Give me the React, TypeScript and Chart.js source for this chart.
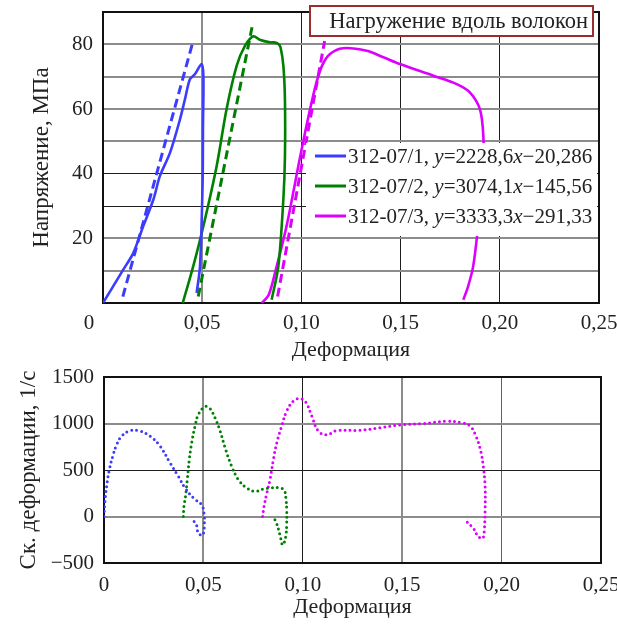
import React, { useEffect, useRef } from 'react';
import { Chart, registerables } from 'chart.js';
Chart.register(...registerables);

const FONT = '"Liberation Serif", "Times New Roman", serif';
const BLUE = '#3c3cff';
const GREEN = '#008000';
const MAGENTA = '#de00ff';
const GRAY = '#8c8c8c';
const DARK = '#1e1e1e';

// ---- Top chart: stress vs strain ----
const series1StrainX = [0, 0.0102, 0.0153, 0.0203, 0.0254, 0.0287, 0.0338, 0.0388, 0.0413, 0.0438, 0.0464, 0.0497, 0.0506, 0.0504, 0.0502, 0.0489, 0.0472];
const series1Stress = [0, 10.3, 15.5, 23.8, 32, 39.3, 46.5, 56.8, 63, 69.2, 70.8, 73.9, 70.3, 55, 37.2, 11.4, 3.1];
const series2StrainX = [0.0402, 0.0455, 0.0506, 0.0573, 0.0623, 0.0674, 0.0716, 0.0758, 0.079, 0.0842, 0.0862, 0.0884, 0.0895, 0.0909, 0.0917, 0.0917, 0.0909, 0.0884, 0.085];
const series2Stress = [0, 11.4, 23.8, 42.4, 60, 73.4, 79.6, 82.5, 81.4, 80.6, 80.6, 80.1, 79, 73.4, 63, 45, 32, 11.4, 1];
const series3StrainX = [0.08, 0.0835, 0.0867, 0.0926, 0.0993, 0.104, 0.1075, 0.1105, 0.1144, 0.121, 0.1329, 0.1413, 0.1497, 0.1665, 0.1783, 0.185, 0.19, 0.1917, 0.1917, 0.1891, 0.1866, 0.184, 0.1816];
const series3Stress = [0, 2.5, 9.3, 24, 45, 58.9, 68, 73.5, 77, 78.8, 78, 76, 73.9, 70.3, 67.7, 65.1, 59.9, 51.7, 40, 23.8, 11.4, 5.1, 1];

// linear fits (end points of the dashed lines)
const fit1X = [0.01, 0.0451];
const fit1Y = [2.0, 80.3];
const fit2X = [0.048, 0.0751];
const fit2Y = [2.0, 85.3];
const fit3X = [0.088, 0.1117];
const fit3Y = [2.0, 81.0];

const seriesNames = ['312-07/1', '312-07/2', '312-07/3'];
const fitSlopes = ['2228,6', '3074,1', '3333,3'];
const fitIntercepts = ['20,286', '145,56', '291,33'];

// ---- Bottom chart: strain rate vs strain ----
const rate1X = [0, 0.0004, 0.0013, 0.0027, 0.0044, 0.0064, 0.0089, 0.0131, 0.0181, 0.0231, 0.0282, 0.0332, 0.0374, 0.0408, 0.045, 0.0491, 0.0503, 0.0505, 0.0497, 0.0475, 0.0463, 0.0442];
const rate1Y = [0, 145, 324, 505, 649, 775, 865, 923, 919, 865, 757, 577, 432, 307, 199, 126, 36, -71, -198, -180, -79, -36];
const rate2X = [0.0399, 0.0402, 0.041, 0.0419, 0.0429, 0.0441, 0.0458, 0.0475, 0.0508, 0.0533, 0.0558, 0.0584, 0.0609, 0.0642, 0.0676, 0.0718, 0.0759, 0.0801, 0.0843, 0.0885, 0.0907, 0.0915, 0.0919, 0.0919, 0.0914, 0.0899, 0.0885, 0.0868, 0.0855];
const rate2Y = [0, 108, 216, 397, 613, 793, 973, 1099, 1182, 1161, 1063, 919, 739, 541, 397, 307, 270, 296, 307, 310, 281, 199, 72, -72, -216, -306, -198, -72, -18];
const rate3X = [0.0798, 0.0805, 0.0819, 0.0835, 0.0852, 0.0869, 0.0894, 0.0919, 0.0953, 0.0986, 0.1016, 0.1045, 0.1078, 0.112, 0.117, 0.1288, 0.1388, 0.1489, 0.1606, 0.1724, 0.1799, 0.1841, 0.1871, 0.1895, 0.1908, 0.1917, 0.1917, 0.1913, 0.1905, 0.1883, 0.1858, 0.1824];
const rate3Y = [0, 108, 252, 397, 613, 793, 973, 1135, 1243, 1269, 1226, 1081, 919, 880, 923, 927, 955, 984, 999, 1024, 1009, 973, 865, 703, 541, 324, 72, -144, -234, -216, -126, -54];

const xTicks = [0, 0.05, 0.1, 0.15, 0.2, 0.25];

const pts = (xs: number[], ys: number[]) => xs.map((x, i) => ({ x, y: ys[i] }));
const fmtX = (v: number) => (Math.abs(v) < 1e-9 ? '0' : v.toFixed(2).replace('.', ','));
const r2 = (v: number) => Math.round(v * 100);

const tickFont = { family: FONT, size: 21 };
const titleFont = { family: FONT, size: 22 };
const yTitleFont = { family: FONT, size: 23 };

const framePlugin = {
  id: 'frame',
  beforeDatasetsDraw(chart: any) {
    const { ctx, chartArea: a } = chart;
    ctx.save();
    ctx.strokeStyle = '#111';
    ctx.lineWidth = 2;
    ctx.strokeRect(a.left, a.top, a.right - a.left, a.bottom - a.top);
    ctx.restore();
  },
};

const topOverlay = {
  id: 'topOverlay',
  afterDatasetsDraw(chart: any) {
    const { ctx } = chart;
    ctx.save();
    // legend box
    ctx.fillStyle = '#fff';
    ctx.fillRect(306, 143, 291, 93);
    const colors = [BLUE, GREEN, MAGENTA];
    const rowsY = [156, 186, 216];
    const normal = `21px ${FONT}`;
    const italic = `italic 21px ${FONT}`;
    for (let i = 0; i < 3; i++) {
      const y = rowsY[i];
      ctx.strokeStyle = colors[i];
      ctx.lineWidth = 3;
      ctx.beginPath();
      ctx.moveTo(315, y);
      ctx.lineTo(346, y);
      ctx.stroke();
      const parts: [string, string][] = [
        [seriesNames[i] + ', ', normal],
        ['y', italic],
        ['=' + fitSlopes[i], normal],
        ['x', italic],
        ['\u2212' + fitIntercepts[i], normal],
      ];
      let x = 348;
      ctx.fillStyle = '#222';
      ctx.textBaseline = 'middle';
      ctx.textAlign = 'left';
      for (const [t, f] of parts) {
        ctx.font = f;
        ctx.fillText(t, x, y + 1);
        x += ctx.measureText(t).width;
      }
    }
    // title box
    ctx.fillStyle = '#fff';
    ctx.fillRect(310, 6, 283, 30);
    ctx.strokeStyle = '#9b2d2d';
    ctx.lineWidth = 2;
    ctx.strokeRect(310, 6, 283, 30);
    ctx.fillStyle = '#222';
    ctx.font = `22.5px ${FONT}`;
    ctx.textAlign = 'right';
    ctx.textBaseline = 'middle';
    ctx.fillText('Нагружение вдоль волокон', 588, 22);
    // origin label
    ctx.font = `21px ${FONT}`;
    ctx.textAlign = 'center';
    ctx.fillText('0', 89, 323);
    ctx.restore();
  },
};

function lineDs(xs: number[], ys: number[], color: string, dashed = false) {
  return {
    data: pts(xs, ys),
    showLine: true,
    borderColor: color,
    backgroundColor: color,
    borderWidth: dashed ? 3 : 2.6,
    borderDash: dashed ? [9, 5] : [],
    pointRadius: 0,
    tension: dashed ? 0 : 0.3,
  };
}

function dotDs(xs: number[], ys: number[], color: string) {
  return {
    data: pts(xs, ys),
    showLine: true,
    borderColor: color,
    backgroundColor: color,
    borderWidth: 3,
    borderDash: [0, 5],
    borderCapStyle: 'round',
    pointRadius: 0,
    tension: 0.4,
  };
}

export default function App() {
  const topRef = useRef<HTMLCanvasElement>(null);
  const botRef = useRef<HTMLCanvasElement>(null);

  useEffect(() => {
    const topChart = new Chart(topRef.current as HTMLCanvasElement, {
      type: 'scatter',
      data: {
        datasets: [
          lineDs(series1StrainX, series1Stress, BLUE),
          lineDs(fit1X, fit1Y, BLUE, true),
          lineDs(series2StrainX, series2Stress, GREEN),
          lineDs(fit2X, fit2Y, GREEN, true),
          lineDs(series3StrainX, series3Stress, MAGENTA),
          lineDs(fit3X, fit3Y, MAGENTA, true),
        ] as any,
      },
      options: {
        animation: false,
        responsive: false,
        devicePixelRatio: 1,
        layout: { padding: { left: 0, top: 12, right: 18, bottom: 0 } },
        plugins: { legend: { display: false }, tooltip: { enabled: false } },
        scales: {
          x: {
            type: 'linear',
            min: 0,
            max: 0.25,
            afterBuildTicks: (s: any) => { s.ticks = xTicks.map((v) => ({ value: v })); },
            ticks: {
              padding: 8,
              color: '#222',
              font: tickFont,
              maxRotation: 0,
              autoSkip: false,
              callback: (v: any) => (Math.abs(v) < 1e-9 ? '' : fmtX(v)),
            },
            grid: {
              drawTicks: false,
              color: (c: any) => (r2(c.tick.value) === 5 ? GRAY : DARK),
              lineWidth: (c: any) => (r2(c.tick.value) === 5 ? 2 : 1),
            },
            border: { display: false },
            title: { display: true, text: 'Деформация', font: titleFont, color: '#222', padding: { top: 0, bottom: 2 } },
            afterFit: (s: any) => { s.height = 62; s.paddingLeft = 0; s.paddingRight = 0; },
          } as any,
          y: {
            type: 'linear',
            min: 0,
            max: 90,
            ticks: {
              stepSize: 10,
              padding: 10,
              color: '#222',
              font: tickFont,
              callback: (v: any) => (v > 0 && v < 90 && v % 20 === 0 ? String(v) : ''),
            },
            grid: {
              drawTicks: false,
              color: (c: any) => (c.tick.value === 30 || c.tick.value === 40 ? DARK : GRAY),
              lineWidth: (c: any) => (c.tick.value === 30 || c.tick.value === 40 ? 1 : 2),
            },
            border: { display: false },
            title: { display: true, text: 'Напряжение, МПа', font: yTitleFont, color: '#222', padding: { top: 28, bottom: 0 } },
            afterFit: (s: any) => { s.width = 103; s.paddingTop = 0; s.paddingBottom = 0; },
          } as any,
        },
      },
      plugins: [framePlugin, topOverlay],
    });

    const botChart = new Chart(botRef.current as HTMLCanvasElement, {
      type: 'scatter',
      data: {
        datasets: [
          dotDs(rate1X, rate1Y, BLUE),
          dotDs(rate2X, rate2Y, GREEN),
          dotDs(rate3X, rate3Y, MAGENTA),
        ] as any,
      },
      options: {
        animation: false,
        responsive: false,
        devicePixelRatio: 1,
        layout: { padding: { left: 0, top: 12, right: 16, bottom: 0 } },
        plugins: { legend: { display: false }, tooltip: { enabled: false } },
        scales: {
          x: {
            type: 'linear',
            min: 0,
            max: 0.25,
            afterBuildTicks: (s: any) => { s.ticks = xTicks.map((v) => ({ value: v })); },
            ticks: { padding: 10, color: '#222', font: tickFont, maxRotation: 0, autoSkip: false, callback: (v: any) => fmtX(v) },
            grid: {
              drawTicks: false,
              color: (c: any) => {
                const k = r2(c.tick.value);
                return k === 5 || k === 15 ? GRAY : k === 20 ? '#5555cc' : DARK;
              },
              lineWidth: (c: any) => {
                const k = r2(c.tick.value);
                return k === 5 || k === 15 ? 2 : 1;
              },
            },
            border: { display: false },
            title: { display: true, text: 'Деформация', font: titleFont, color: '#222', padding: { top: 0, bottom: 9 } },
            afterFit: (s: any) => { s.height = 66; s.paddingLeft = 0; s.paddingRight = 0; },
          } as any,
          y: {
            type: 'linear',
            min: -500,
            max: 1500,
            ticks: {
              stepSize: 500,
              padding: 10,
              color: '#222',
              font: tickFont,
              callback: (v: any) => (v < 0 ? '\u2212' + Math.abs(v) : String(v)),
            },
            grid: {
              drawTicks: false,
              color: (c: any) => (c.tick.value === 500 ? DARK : GRAY),
              lineWidth: (c: any) => (c.tick.value === 500 ? 1 : 2),
            },
            border: { display: false },
            title: { display: true, text: 'Ск. деформации, 1/с', font: yTitleFont, color: '#222', padding: { top: 15, bottom: 0 } },
            afterFit: (s: any) => { s.width = 104; s.paddingTop = 0; s.paddingBottom = 0; },
          } as any,
        },
      },
      plugins: [framePlugin],
    });

    return () => {
      topChart.destroy();
      botChart.destroy();
    };
  }, []);

  return (
    <div style={{ position: 'absolute', left: 0, top: 0, width: 617, height: 629, background: '#fff' }}>
      <canvas ref={topRef} width={617} height={365} style={{ position: 'absolute', left: 0, top: 0, width: 617, height: 365 }} />
      <canvas ref={botRef} width={617} height={264} style={{ position: 'absolute', left: 0, top: 365, width: 617, height: 264 }} />
    </div>
  );
}
